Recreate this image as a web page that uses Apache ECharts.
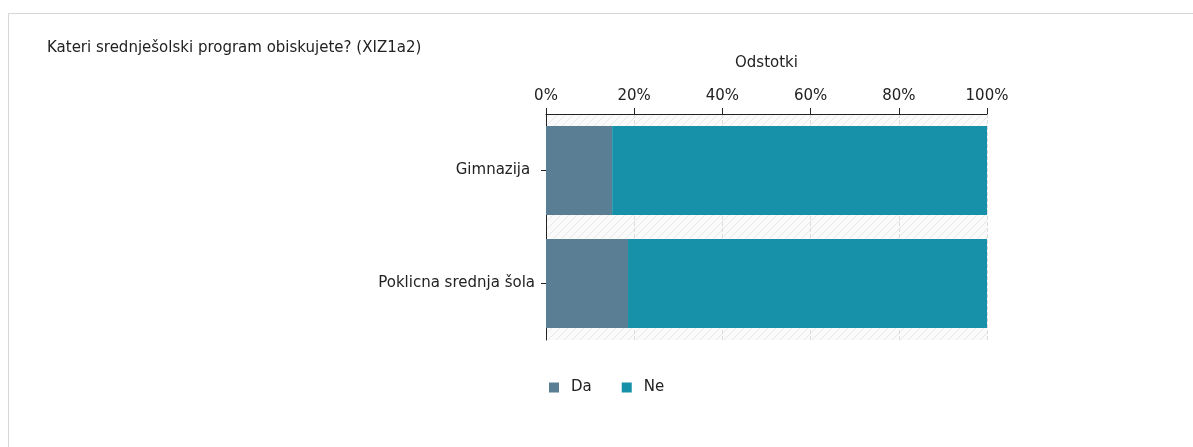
<!DOCTYPE html>
<html>
<head>
<meta charset="utf-8">
<script src="https://cdn.jsdelivr.net/npm/echarts@6/dist/echarts.min.js"></script>
<style>
body { margin: 0; background: #fff; }
#frame { position: absolute; left: 8px; top: 13px; width: 1200px; height: 460px; border: 1px solid #d8d8d8; }
#main { position: absolute; left: 0; top: 0; width: 1193px; height: 447px; }
</style>
</head>
<body>
<div id="frame"></div>
<div id="main"></div>
<script>
var categories = ['Gimnazija ', 'Poklicna srednja šola'];
var seriesNames = ['Da', 'Ne'];
var daValues = [15.0, 18.6];
var neValues = [85.0, 81.4];
var tickLabels = ['0%', '20%', '40%', '60%', '80%', '100%'];

// hatched plot background
function makeHatch() {
    var c = document.createElement('canvas');
    c.width = 8; c.height = 8;
    var ctx = c.getContext('2d');
    ctx.fillStyle = '#fafafa';
    ctx.fillRect(0, 0, 8, 8);
    ctx.strokeStyle = '#e8e8e8';
    ctx.lineWidth = 1;
    ctx.beginPath();
    ctx.moveTo(0, 8); ctx.lineTo(8, 0);
    ctx.moveTo(-4, 4); ctx.lineTo(4, -4);
    ctx.moveTo(4, 12); ctx.lineTo(12, 4);
    ctx.stroke();
    return { image: c, repeat: 'repeat' };
}

var myChart = echarts.init(document.getElementById('main'));
var font = 'DejaVu Sans';
var fs = 15;
var options = {
    animation: false,
    textStyle: { fontFamily: font, fontSize: fs, color: '#222' },
    title: {
        text: 'Kateri srednješolski program obiskujete? (XIZ1a2)',
        left: 47, top: 41, padding: 0,
        textStyle: { fontFamily: font, fontSize: fs, fontWeight: 'normal', color: '#222' }
    },
    legend: {
        data: seriesNames,
        left: 549, top: 380, padding: 0,
        itemWidth: 10, itemHeight: 10, itemGap: 30,
        icon: 'rect',
        textStyle: { fontFamily: font, fontSize: fs, color: '#222', padding: [0, 0, 0, 7] }
    },
    grid: {
        left: 546, right: 206, top: 114, bottom: 107,
        show: true,
        backgroundColor: makeHatch(),
        borderWidth: 0
    },
    xAxis: {
        type: 'value',
        position: 'top',
        min: 0, max: 100, interval: 20,
        name: 'Odstotki',
        nameLocation: 'middle',
        nameGap: 43,
        nameTextStyle: { fontFamily: font, fontSize: fs, color: '#222' },
        axisLine: { show: true, lineStyle: { color: '#222', width: 1 } },
        axisTick: { show: true, length: 6, lineStyle: { color: '#222' } },
        axisLabel: {
            margin: 10, fontFamily: font, fontSize: fs, color: '#222',
            formatter: function (v) { return tickLabels[v / 20]; }
        },
        splitLine: { show: true, lineStyle: { color: '#dcdcdc', type: 'dashed' } }
    },
    yAxis: {
        type: 'category',
        inverse: true,
        data: categories,
        axisLine: { show: true, lineStyle: { color: '#222', width: 1 } },
        axisTick: { show: true, alignWithLabel: true, length: 5, lineStyle: { color: '#222' } },
        axisLabel: { margin: 11, fontFamily: font, fontSize: fs, color: '#222' },
        splitLine: { show: false }
    },
    series: [
        {
            name: 'Da', type: 'bar', stack: 'total',
            barWidth: 89,
            itemStyle: { color: '#5a7f95' },
            data: daValues
        },
        {
            name: 'Ne', type: 'bar', stack: 'total',
            barWidth: 89,
            itemStyle: { color: '#1691a9' },
            data: neValues
        }
    ]
};
myChart.setOption(options);
</script>
</body>
</html>
